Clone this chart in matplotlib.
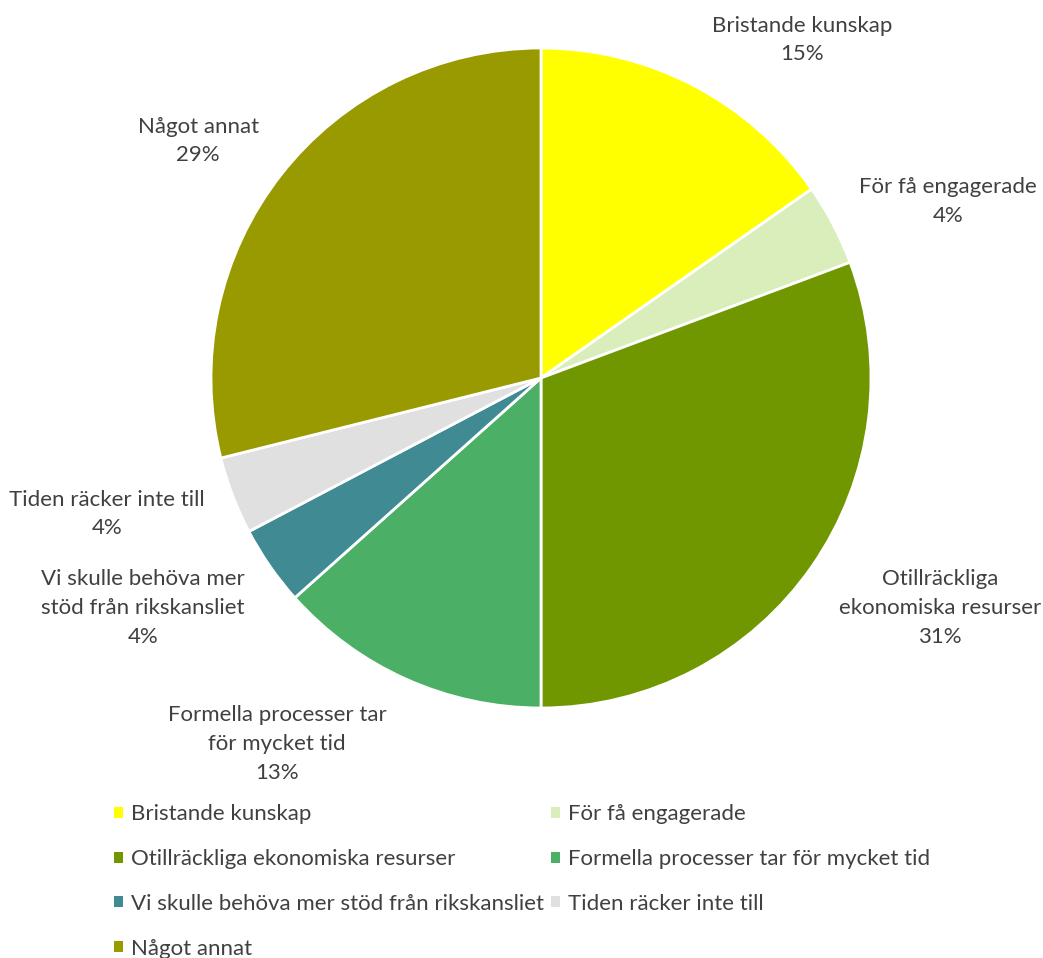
import matplotlib
matplotlib.use("Agg")
import matplotlib.pyplot as plt
from matplotlib.patches import Patch

categories = [
    "Bristande kunskap",
    "För få engagerade",
    "Otillräckliga ekonomiska resurser",
    "Formella processer tar för mycket tid",
    "Vi skulle behöva mer stöd från rikskansliet",
    "Tiden räcker inte till",
    "Något annat",
]
values = [15.3, 4.0, 30.7, 13.4, 3.9, 3.8, 28.9]
label_texts = [
    "Bristande kunskap",
    "För få engagerade",
    "Otillräckliga\nekonomiska resurser",
    "Formella processer tar\nför mycket tid",
    "Vi skulle behöva mer\nstöd från rikskansliet",
    "Tiden räcker inte till",
    "Något annat",
]
colors = ["#FFFF00", "#D9EEBB", "#709600", "#4BAF66", "#3F8A93", "#E0E0E0", "#999900"]

# label anchor positions (pie radius = 1 units)
label_pos = [(0.791, 1.024), (1.233, 0.536), (1.209, -0.697), (-0.800, -1.109),
             (-1.206, -0.697), (-1.315, -0.412), (-1.039, 0.718)]

plt.rcParams['font.family'] = ['Lato', 'DejaVu Sans']
TXT = "#404040"
FS = 16

fig = plt.figure(figsize=(10.43, 9.58), dpi=100)
ax = fig.add_axes([0, 0, 1, 1])

wedges, _ = ax.pie(values, colors=colors, startangle=90, counterclock=False,
                   radius=1.0, center=(0, 0),
                   wedgeprops=dict(edgecolor='white', linewidth=2.0))
ax.set_xlim(-541 / 330, (1043 - 541) / 330)
ax.set_ylim(-(958 - 378) / 330, 378 / 330)
ax.set_aspect('auto')
ax.axis('off')

total = sum(values)
for txt, v, (x, y) in zip(label_texts, values, label_pos):
    ax.text(x, y, f"{txt}\n{v / total * 100:.0f}%", ha='center', va='center',
            fontsize=FS, color=TXT, linespacing=1.55)

handles = [Patch(facecolor=c, edgecolor='none') for c in colors]
order = [0, 2, 4, 6, 1, 3, 5]
fig.legend([handles[i] for i in order], [categories[i] for i in order],
           ncol=2, loc='upper left', bbox_to_anchor=(103 / 1043, 1 - 793 / 958),
           frameon=False, fontsize=FS, labelcolor=TXT,
           handlelength=0.38, handleheight=0.38, handletextpad=0.4,
           labelspacing=1.12, columnspacing=0.3, borderpad=0)

fig.savefig("out.png", dpi=100, facecolor='white')
